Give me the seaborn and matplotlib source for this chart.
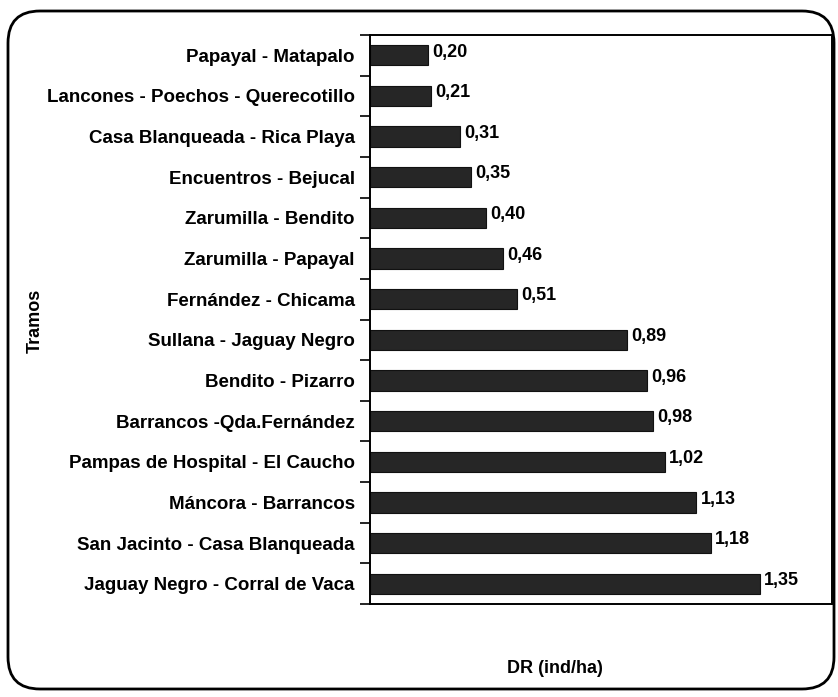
import matplotlib
matplotlib.use("Agg")
import matplotlib.pyplot as plt
import seaborn as sns
import pandas as pd
from matplotlib.patches import FancyBboxPatch
from matplotlib.ticker import FixedLocator

tramos = [
    "Papayal - Matapalo",
    "Lancones - Poechos - Querecotillo",
    "Casa Blanqueada - Rica Playa",
    "Encuentros - Bejucal",
    "Zarumilla - Bendito",
    "Zarumilla - Papayal",
    "Fernández - Chicama",
    "Sullana - Jaguay Negro",
    "Bendito - Pizarro",
    "Barrancos -Qda.Fernández",
    "Pampas de Hospital - El Caucho",
    "Máncora - Barrancos",
    "San Jacinto - Casa Blanqueada",
    "Jaguay Negro - Corral de Vaca",
]
dr = [0.20, 0.21, 0.31, 0.35, 0.40, 0.46, 0.51, 0.89, 0.96, 0.98, 1.02, 1.13, 1.18, 1.35]

df = pd.DataFrame({"Tramos": tramos, "DR": dr})

sns.set_style("white")
plt.rcParams["font.family"] = ["Liberation Sans", "DejaVu Sans"]
plt.rcParams["text.color"] = "black"
plt.rcParams["ytick.color"] = "black"
plt.rcParams["ytick.labelcolor"] = "black"

fig = plt.figure(figsize=(8.38, 6.97), dpi=100)

# rounded frame around the whole picture, in pixel units
bg = fig.add_axes([0, 0, 1, 1])
bg.set_xlim(0, 838)
bg.set_ylim(697, 0)
bg.axis("off")
bg.add_patch(FancyBboxPatch((8, 11), 826, 678, boxstyle="round,pad=0,rounding_size=32",
                            fill=False, edgecolor="black", linewidth=2))

ax = fig.add_axes([0.4415, 0.1334, 0.993 - 0.4415, 0.9498 - 0.1334])

sns.barplot(data=df, x="DR", y="Tramos", orient="h", color="#262626",
            width=0.5, saturation=1, ax=ax, edgecolor="#111111", linewidth=0.8)

for i, v in enumerate(dr):
    ax.text(v + 0.015, i - 0.08, f"{v:.2f}".replace(".", ","), va="center", ha="left",
            fontsize=13, fontweight="bold", color="black")

ax.set_xlim(0, 1.6)
ax.set_ylim(len(tramos) - 0.5, -0.5)
ax.set_xticks([])
ax.set_xlabel("")
ax.set_ylabel("")
ax.yaxis.set_minor_locator(FixedLocator([i - 0.5 for i in range(len(tramos) + 1)]))
ax.tick_params(axis="y", which="major", left=False, length=0, labelsize=13.5, pad=11)
ax.tick_params(axis="y", which="minor", left=True, length=7, width=1.2,
               color="black", direction="out")
for lbl in ax.get_yticklabels():
    lbl.set_fontweight("bold")
for s in ax.spines.values():
    s.set_visible(True)
    s.set_color("black")
    s.set_linewidth(1.4)

fig.text(0.042, 0.54, "Tramos", rotation=90, ha="center", va="center",
         fontsize=13, fontweight="bold")
fig.text(0.662, 0.041, "DR (ind/ha)", ha="center", va="center",
         fontsize=13, fontweight="bold")

fig.savefig("out.png", dpi=100)
